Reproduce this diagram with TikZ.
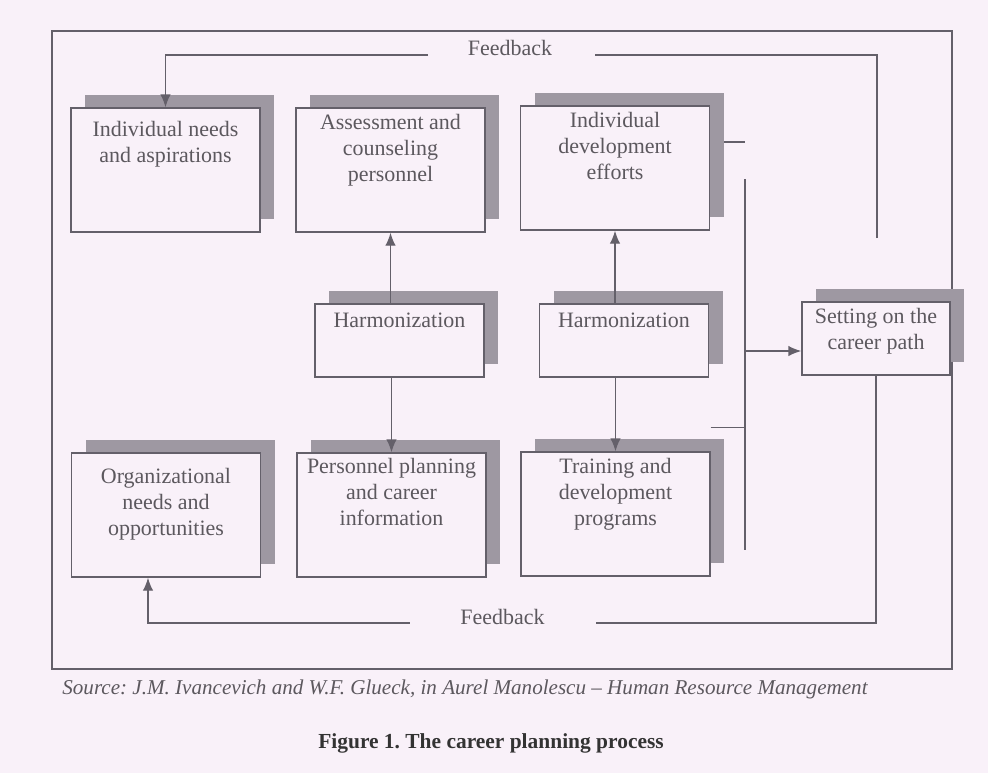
\documentclass[tikz,border=0pt]{standalone}
\usepackage{fontspec}
\setmainfont{Liberation Serif}
\usetikzlibrary{arrows.meta,positioning,shadows}
\definecolor{cpback}{RGB}{249,241,249}
\definecolor{cpgray}{RGB}{100,96,106}
\definecolor{cpshade}{RGB}{158,152,162}
\definecolor{cpink}{RGB}{92,88,94}
\newcommand{\cptext}[4][12.5pt]{\parbox[c][#2][t]{#3}{\centering\rule{0pt}{#1}#4}}
\tikzset{
  cpbox/.style={draw=cpgray, line width=0.8pt, fill=cpback, inner sep=0pt, text=cpink,
    font=\fontsize{12.5}{14.8}\selectfont,
    general shadow={fill=cpshade, shadow xshift=0.28cm, shadow yshift=0.27cm}},
  cparrow/.style={-{Latex[length=2.6mm, width=2.1mm]}, draw=cpgray, line width=0.8pt},
  cpline/.style={draw=cpgray, line width=0.8pt},
  cplabel/.style={font=\fontsize{12.5}{14.8}\selectfont, text=cpink, inner sep=0pt},
}

\begin{document}
\frenchspacing
\begin{tikzpicture}
  \fill[cpback] (0,0) rectangle (19.76,-15.46);
  \draw[cpline] (1.04,-0.62) rectangle (19.04,-13.38);

  % top row
  \node[cpbox] (need) at (3.31,-3.40) {\cptext[16pt]{2.48cm}{3.78cm}{Individual needs\\and aspirations}};
  \node[cpbox] (assess) at (7.81,-3.40) {\cptext{2.48cm}{3.78cm}{Assessment and\\counseling\\personnel}};
  \node[cpbox] (effort) at (12.30,-3.36) {\cptext{2.48cm}{3.78cm}{Individual\\development\\efforts}};

  % middle row
  \node[cpbox] (harmA) at (7.99,-6.81) {\cptext[13.5pt]{1.46cm}{3.38cm}{Harmonization}};
  \node[cpbox] (harmB) at (12.48,-6.81) {\cptext[13.5pt]{1.46cm}{3.38cm}{Harmonization}};
  \node[cpbox] (setting) at (17.52,-6.77) {\cptext{1.46cm}{2.96cm}{Setting on the\\career path}};

  % bottom row
  \node[cpbox] (org) at (3.32,-10.30) {\cptext[17.5pt]{2.48cm}{3.78cm}{Organizational\\needs and\\opportunities}};
  \node[cpbox] (plan) at (7.83,-10.30) {\cptext[11.5pt]{2.48cm}{3.78cm}{Personnel planning\\and career\\information}};
  \node[cpbox] (train) at (12.31,-10.28) {\cptext{2.48cm}{3.78cm}{Training and\\development\\programs}};

  \draw[cparrow] (harmA.north -| assess.south) -- (assess.south);
  \draw[cparrow] (harmA.south -| plan.north) -- (plan.north);
  \draw[cparrow] (harmB.north -| effort.south) -- (effort.south);
  \draw[cparrow] (harmB.south -| train.north) -- (train.north);

  % collecting line
  \coordinate (bustop) at (14.90,-3.58);
  \coordinate (busbot) at (14.90,-11.00);
  \coordinate (stubA) at ([xshift=0.28cm,yshift=0.52cm]effort.east);
  \coordinate (stubB) at ([yshift=0.48cm]train.north east);
  \coordinate (arrin) at ([yshift=-0.25cm]setting.west);
  \draw[cpline] (bustop) -- (busbot);
  \draw[cpline] (stubA) -- (stubA -| bustop);
  \draw[cpline] (stubB) -- (stubB -| bustop);
  \draw[cparrow] (arrin -| bustop) -- (arrin);

  % feedback loops
  \node[cplabel] (fbtop) at (10.20,-0.96) {Feedback};
  \node[cplabel] (fbbot) at (10.05,-12.34) {Feedback};
  \coordinate (fbstart) at (17.54,-4.76);
  \draw[cpline] (fbstart) |- ([xshift=0.85cm,yshift=-0.14cm]fbtop.east);
  \draw[cparrow] ([xshift=-0.79cm,yshift=-0.14cm]fbtop.west) -| (need.north);
  \draw[cpline] (setting.south) |- ([xshift=1.03cm,yshift=-0.12cm]fbbot.east);
  \draw[cparrow] ([xshift=-1.01cm,yshift=-0.12cm]fbbot.west) -| ([xshift=-0.36cm]org.south);

  \node[cplabel, font=\fontsize{12}{14}\selectfont\itshape] (source) at (9.30,-13.78)
    {Source: J.M. Ivancevich and W.F. Glueck, in Aurel Manolescu -- Human Resource Management};
  \node[cplabel, font=\fontsize{12.2}{14}\selectfont\bfseries, text=black!80] (caption) at (9.82,-14.86)
    {Figure 1. The career planning process};
\end{tikzpicture}
\end{document}
